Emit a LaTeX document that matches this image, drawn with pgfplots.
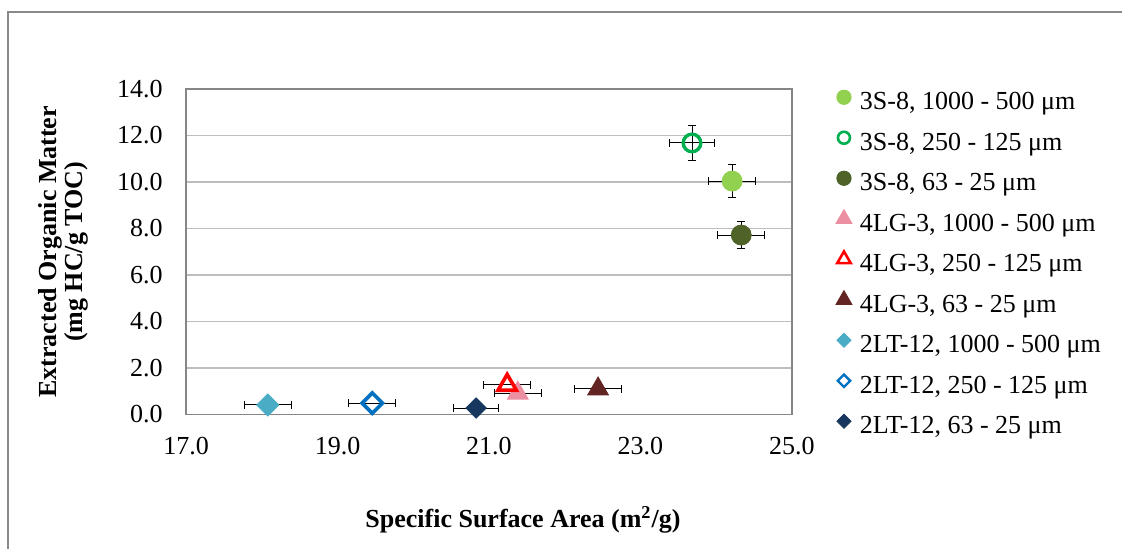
\documentclass[border=0pt]{standalone}
\usepackage{fontspec}
\setmainfont{Liberation Serif}
\usepackage{pgfplots}
\pgfplotsset{compat=1.18}
\definecolor{frame}{HTML}{898989}
\definecolor{axisgray}{HTML}{868686}
\definecolor{gridgray}{HTML}{BDBDBD}
\definecolor{lgreen}{HTML}{92D050}
\definecolor{mgreen}{HTML}{00B050}
\definecolor{olive}{HTML}{4F6228}
\definecolor{pink}{HTML}{EC8FA2}
\definecolor{bred}{HTML}{FF0000}
\definecolor{brown}{HTML}{632523}
\definecolor{teal}{HTML}{4BACC6}
\definecolor{blue}{HTML}{0070C0}
\definecolor{navy}{HTML}{17375E}

% error bars only (markers are drawn afterwards, on top)
\pgfplotsset{
  ebar/.style={forget plot, draw=none, mark=none,
    error bars/.cd, x dir=both, x explicit, #1,
    error bar style={draw=black, line width=0.5pt},
    error mark options={rotate=90, draw=black, mark size=2pt, line width=0.5pt}},
}

\begin{document}
\fontsize{13}{15}\selectfont
\begin{tikzpicture}
\draw[frame, line width=0.75pt] (4pt,-6pt) rectangle (620pt,-320pt);
\begin{axis}[
  at={(93pt,-207.25pt)}, anchor=south west,
  scale only axis, width=303pt, height=162.75pt,
  xmin=17, xmax=25, ymin=0, ymax=14,
  xtick={17,19,21,23,25}, ytick={0,2,4,6,8,10,12,14},
  xticklabel={\pgfmathprintnumber[fixed,fixed zerofill,precision=1,assume math mode=true]{\tick}},
  yticklabel={\pgfmathprintnumber[fixed,fixed zerofill,precision=1,assume math mode=true]{\tick}},
  tick label style={font=\fontsize{13}{15}\selectfont},
  yticklabel style={anchor=east, inner sep=0pt, xshift=-11.5pt},
  xticklabel style={anchor=north, inner sep=0pt, yshift=-11pt},
  major tick length=0pt,
  axis line style={axisgray, line width=0.6pt},
  ymajorgrids, grid style={gridgray, line width=0.6pt},
  xlabel={Specific Surface Area (m\textsuperscript{2}/g)},
  xlabel style={font=\fontsize{13}{15}\selectfont\bfseries, at={(axis description cs:0.556,0)}, anchor=center, yshift=-52.75pt},
  ylabel={Extracted Organic Matter\\(mg HC/g TOC)},
  ylabel style={font=\fontsize{13}{13}\selectfont\bfseries, align=center, at={(axis description cs:0,0.5)}, anchor=center, yshift=61.5pt},
  legend cell align=left,
  legend image code/.code={\path[draw=none, fill=none] (0pt,-3pt) rectangle (7pt,3pt); \draw[#1] plot coordinates {(3.5pt,4.3pt)};},
  legend style={at={(1,1)}, anchor=north west, xshift=22pt, yshift=1.7pt,
    draw=none, fill=none, inner sep=0pt, outer sep=0pt, row sep=0pt,
    font=\fontsize{13}{15}\selectfont,
    nodes={inner sep=0pt, text height=12pt, text depth=8.25pt},
    /tikz/every odd column/.style={column sep=4pt}},
]
% error bars
\addplot[ebar={y dir=both, y explicit}] coordinates {(24.21,10.04) +- (0.31,0.71)};
\addplot[ebar={y dir=both, y explicit}] coordinates {(23.68,11.68) +- (0.30,0.77)};
\addplot[ebar={y dir=both, y explicit}] coordinates {(24.33,7.72) +- (0.31,0.58)};
\addplot[ebar={}] coordinates {(21.38,0.92) +- (0.31,0)};
\addplot[ebar={}] coordinates {(21.24,1.27) +- (0.31,0)};
\addplot[ebar={}] coordinates {(22.44,1.10) +- (0.31,0)};
\addplot[ebar={}] coordinates {(18.08,0.41) +- (0.31,0)};
\addplot[ebar={}] coordinates {(19.46,0.49) +- (0.31,0)};
\addplot[ebar={}] coordinates {(20.83,0.28) +- (0.30,0)};

% 3S-8
\addplot[forget plot, only marks, mark=*, mark size=5pt, lgreen] coordinates {(24.21,10.04)};
\addplot[forget plot, only marks, mark=o, mark size=4.4pt, mark options={line width=1.7pt}, mgreen] coordinates {(23.68,11.68)};
\addplot[forget plot, only marks, mark=*, mark size=5pt, olive] coordinates {(24.33,7.72)};
% 4LG-3
\addplot[forget plot, only marks, mark=triangle*, mark size=6pt, pink] coordinates {(21.38,0.92)};
\addplot[forget plot, only marks, mark=triangle, mark size=5.3pt, mark options={line width=1.8pt}, bred] coordinates {(21.24,1.27)};
\addplot[forget plot, only marks, mark=triangle*, mark size=6pt, brown] coordinates {(22.44,1.10)};
% 2LT-12
\addplot[forget plot, only marks, mark=square*, mark size=3.9pt, mark options={rotate=45}, teal] coordinates {(18.08,0.41)};
\addplot[forget plot, only marks, mark=square, mark size=3.6pt, mark options={rotate=45, line width=1.8pt}, blue] coordinates {(19.46,0.49)};
\addplot[forget plot, only marks, mark=square*, mark size=3.6pt, mark options={rotate=45}, navy] coordinates {(20.83,0.28)};

\addlegendimage{only marks, mark=*, mark size=3.6pt, lgreen}
\addlegendentry{3S-8, 1000 - 500 μm}
\addlegendimage{only marks, mark=o, mark size=3pt, mark options={line width=1.3pt}, mgreen}
\addlegendentry{3S-8, 250 - 125 μm}
\addlegendimage{only marks, mark=*, mark size=3.6pt, olive}
\addlegendentry{3S-8, 63 - 25 μm}
\addlegendimage{only marks, mark=triangle*, mark size=4.6pt, pink}
\addlegendentry{4LG-3, 1000 - 500 μm}
\addlegendimage{only marks, mark=triangle, mark size=3.9pt, mark options={line width=1.3pt}, bred}
\addlegendentry{4LG-3, 250 - 125 μm}
\addlegendimage{only marks, mark=triangle*, mark size=4.6pt, brown}
\addlegendentry{4LG-3, 63 - 25 μm}
\addlegendimage{only marks, mark=square*, mark size=2.5pt, mark options={rotate=45}, teal}
\addlegendentry{2LT-12, 1000 - 500 μm}
\addlegendimage{only marks, mark=square, mark size=2.2pt, mark options={rotate=45, line width=1.2pt}, blue}
\addlegendentry{2LT-12, 250 - 125 μm}
\addlegendimage{only marks, mark=square*, mark size=2.5pt, mark options={rotate=45}, navy}
\addlegendentry{2LT-12, 63 - 25 μm}
\end{axis}
\pgfresetboundingbox
\useasboundingbox (0pt,0pt) rectangle (561pt,-274pt);
\end{tikzpicture}
\end{document}
